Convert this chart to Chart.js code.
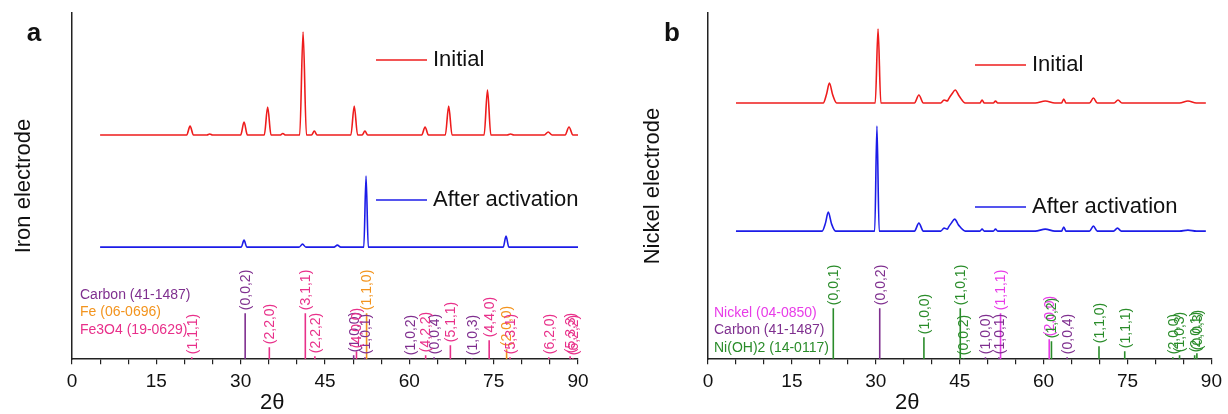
<!DOCTYPE html>
<html lang="en">
<head>
    <meta charset="UTF-8">
    <title>XRD - Iron and Nickel electrodes</title>
    <script src="https://cdn.jsdelivr.net/npm/chart.js"></script>
    <style>
        body { margin: 0; background: #fff; }
        #wrap { position: relative; width: 1228px; height: 414px; }
        .panel { position: absolute; top: 0; width: 614px; height: 414px; }
    </style>
</head>
<body>
<div id="wrap">
    <div class="panel" style="left:0"><canvas id="ironChart"></canvas></div>
    <div class="panel" style="left:614px"><canvas id="nickelChart"></canvas></div>
</div>
<script>
    // ---- measured patterns (2theta, intensity above each trace's own baseline, a.u.) ----
    const ironInitialX = [5, 20.4, 21.0, 21.6, 24.0, 24.5, 25.0, 30.0, 30.6, 31.2, 34.2, 34.8, 35.4, 37.0, 37.5, 38.0,
        40.5, 41.1, 41.7, 42.6, 43.1, 43.6, 49.6, 50.2, 50.8, 51.6, 52.1, 52.6, 62.2, 62.8, 63.4, 66.4, 67.0, 67.6,
        73.3, 73.9, 74.5, 77.4, 78.0, 78.6, 84.0, 84.7, 85.4, 87.7, 88.4, 89.1, 90];
    const ironInitialY = [0, 0, 9, 0, 0, 1, 0, 0, 13, 0, 0, 28, 0, 0, 1.5, 0,
        0, 103, 0, 0, 4, 0, 0, 29, 0, 0, 4, 0, 0, 8, 0, 0, 29, 0,
        0, 45, 0, 0, 1, 0, 0, 3, 0, 0, 8, 0, 0];

    const ironActivatedX = [5, 30.1, 30.6, 31.1, 40.4, 41.0, 41.6, 46.6, 47.2, 47.8, 51.9, 52.3, 52.7, 76.7, 77.2, 77.7, 90];
    const ironActivatedY = [0, 0, 7, 0, 0, 3, 0, 0, 2, 0, 0, 71, 0, 0, 11, 0, 0];

    const nickelInitialX = [5, 20.6, 21.2, 21.7, 22.3, 23.0, 29.9, 30.4, 30.9, 36.9, 37.7, 38.5, 41.6, 42.2, 42.8,
        43.0, 43.6, 44.2, 44.9, 46.0, 48.6, 49.0, 49.4, 51.0, 51.4, 51.8, 58.5, 60.3, 62.0, 63.2, 63.6, 64.0,
        68.2, 68.9, 69.6, 72.6, 73.3, 74.0, 84.3, 85.8, 87.3, 89];
    const nickelInitialY = [0, 0, 9, 20, 8, 0, 0, 74, 0, 0, 8, 0, 0, 3, 2,
        4, 9, 13, 7, 0, 0, 3, 0, 0, 2, 0, 0, 2, 0, 0, 4, 0,
        0, 5, 0, 0, 3, 0, 0, 2, 0, 0];

    const nickelActivatedX = [5, 20.4, 21.0, 21.5, 22.1, 22.8, 29.8, 30.2, 30.6, 36.9, 37.7, 38.5, 41.6, 42.2, 42.8,
        43.0, 43.5, 44.1, 44.8, 46.0, 48.6, 49.0, 49.4, 51.0, 51.4, 51.8, 58.5, 60.3, 62.0, 63.2, 63.6, 64.0,
        68.2, 68.9, 69.6, 72.5, 73.2, 73.9, 84.3, 85.8, 87.3, 89];
    const nickelActivatedY = [0, 0, 8, 19, 7, 0, 0, 105, 0, 0, 8, 0, 0, 3, 2,
        4, 8, 12, 6, 0, 0, 2, 0, 0, 2, 0, 0, 2, 0, 0, 4, 0,
        0, 5, 0, 0, 3, 0, 0, 1, 0, 0];

    // ---- reference cards: [2theta, stick height, hkl] ----
    const ironCarbon = [[30.8, 46, '(0,0,2)'], [50.1, 4, '(1,0,0)'], [52.1, 2, '(1,0,1)'], [60.1, 1, '(1,0,2)'],
        [64.4, 2, '(0,0,4)'], [71.1, 1, '(1,0,3)']];
    const ironFe = [[52.4, 46, '(1,1,0)'], [77.3, 10, '(2,0,0)']];
    const ironFe3O4 = [[21.3, 2, '(1,1,1)'], [35.1, 12, '(2,2,0)'], [41.5, 46, '(3,1,1)'], [43.2, 3, '(2,2,2)'],
        [50.6, 8, '(4,0,0)'], [62.9, 4, '(4,2,2)'], [67.3, 14, '(5,1,1)'], [74.2, 19, '(4,4,0)'], [77.9, 2, '(5,3,1)'],
        [84.8, 2, '(6,2,0)'], [88.6, 3, '(5,3,3)'], [89.1, 1, '(6,2,2)']];

    const nickelNi = [[52.3, 46, '(1,1,1)'], [61.0, 20, '(2,0,0)']];
    const nickelCarbon = [[30.7, 51, '(0,0,2)'], [49.6, 2, '(1,0,0)'], [52.0, 2, '(1,0,1)'], [64.2, 2, '(0,0,4)']];
    const nickelNiOH2 = [[22.4, 51, '(0,0,1)'], [38.6, 22, '(1,0,0)'], [45.1, 51, '(1,0,1)'], [45.7, 1, '(0,0,2)'],
        [61.4, 18, '(1,0,2)'], [69.9, 13, '(1,1,0)'], [74.5, 8, '(1,1,1)'], [83.1, 2, '(2,0,0)'], [84.3, 4, '(1,0,3)'],
        [87.0, 4, '(2,0,1)'], [87.4, 6, '(0,0,3)']];

    const FONT = '"Liberation Sans", Arial, sans-serif';
    const RED = '#ee1c1c', BLUE = '#1c1ce8';

    function toPoints(xs, ys, offset) {
        return xs.map((x, i) => ({ x: x, y: ys[i] + offset }));
    }

    function stickPoints(peaks) {
        const pts = [];
        peaks.forEach(p => {
            pts.push({ x: p[0], y: 0 }, { x: p[0], y: p[1] }, { x: p[0], y: null });
        });
        return pts;
    }

    const xrdExtras = {
        id: 'xrdExtras',
        afterDraw(chart, args, o) {
            const ctx = chart.ctx, xs = chart.scales.x, ys = chart.scales.y;
            ctx.save();
            ctx.textAlign = 'left';
            ctx.textBaseline = 'middle';

            // hkl labels above sticks
            ctx.font = '14px ' + FONT;
            o.phases.forEach(ph => {
                ctx.fillStyle = ph.color;
                ph.peaks.forEach(p => {
                    ctx.save();
                    ctx.translate(xs.getPixelForValue(p[0]) + 1, ys.getPixelForValue(p[1]) - 3);
                    ctx.rotate(-Math.PI / 2);
                    ctx.fillText(p[2], 0, 0);
                    ctx.restore();
                });
            });

            // card names
            o.phases.forEach((ph, i) => {
                ctx.fillStyle = ph.color;
                ctx.fillText(ph.name, o.phaseX, o.phaseY + i * 17.5);
            });

            // trace legend
            ctx.font = '22px ' + FONT;
            o.legend.forEach(l => {
                ctx.strokeStyle = l.color;
                ctx.lineWidth = 1.5;
                ctx.beginPath();
                ctx.moveTo(l.x, l.y);
                ctx.lineTo(l.x + 51, l.y);
                ctx.stroke();
                ctx.fillStyle = '#111';
                ctx.fillText(l.text, l.x + 57, l.y);
            });

            // axis title 2θ
            ctx.font = '22px ' + FONT;
            ctx.fillStyle = '#111';
            ctx.textAlign = 'center';
            ctx.fillText('2\u03b8', xs.getPixelForValue(35.6), 403);

            // panel letter
            ctx.font = 'bold 26px ' + FONT;
            ctx.fillText(o.letter, o.letterX, 34);
            ctx.restore();
        }
    };

    function makePanel(id, yTitle, traces, phases, extras, pad) {
        const datasets = [];
        traces.forEach(t => datasets.push({
            data: toPoints(t.x, t.y, t.offset),
            borderColor: t.color, borderWidth: 1.6, pointRadius: 0,
            cubicInterpolationMode: 'monotone', fill: false
        }));
        phases.forEach(ph => datasets.push({
            data: stickPoints(ph.peaks),
            borderColor: ph.color, borderWidth: 1.6, pointRadius: 0, spanGaps: false, fill: false
        }));

        return new Chart(document.getElementById(id), {
            type: 'line',
            data: { datasets: datasets },
            plugins: [xrdExtras],
            options: {
                responsive: true,
                maintainAspectRatio: false,
                animation: false,
                layout: { padding: { left: 0, right: pad.right, top: 13, bottom: 15 } },
                plugins: {
                    legend: { display: false },
                    tooltip: { enabled: false },
                    xrdExtras: Object.assign({ phases: phases }, extras)
                },
                scales: {
                    x: {
                        type: 'linear', min: 0, max: 90,
                        grid: { display: true, drawOnChartArea: false, drawTicks: true, tickLength: 5, color: '#222', lineWidth: 1.2 },
                        border: { display: true, color: '#222', width: 1.5 },
                        ticks: {
                            stepSize: 5, autoSkip: false, maxRotation: 0, padding: 6,
                            color: '#111', font: { family: FONT, size: 19 },
                            callback: v => (v % 15 === 0 ? v : '')
                        }
                    },
                    y: {
                        min: 0, max: 346,
                        grid: { display: false },
                        border: { display: true, color: '#222', width: 1.5 },
                        ticks: { display: false },
                        title: {
                            display: true, text: yTitle, color: '#111',
                            font: { family: FONT, size: 22 },
                            padding: { top: pad.titleTop, bottom: pad.titleBottom }
                        }
                    }
                }
            }
        });
    }

    makePanel('ironChart', 'Iron electrode',
        [
            { x: ironInitialX, y: ironInitialY, offset: 224, color: RED },
            { x: ironActivatedX, y: ironActivatedY, offset: 112, color: BLUE }
        ],
        [
            { name: 'Carbon (41-1487)', color: '#7f2f8f', peaks: ironCarbon },
            { name: 'Fe (06-0696)', color: '#f3941e', peaks: ironFe },
            { name: 'Fe3O4 (19-0629)', color: '#e8308a', peaks: ironFe3O4 }
        ],
        {
            letter: 'a', letterX: 34, phaseX: 80, phaseY: 295,
            legend: [{ text: 'Initial', color: RED, x: 376, y: 60 }, { text: 'After activation', color: BLUE, x: 376, y: 200 }]
        },
        { right: 36, titleTop: 10.8, titleBottom: 26.8 });

    makePanel('nickelChart', 'Nickel electrode',
        [
            { x: nickelInitialX, y: nickelInitialY, offset: 256, color: RED },
            { x: nickelActivatedX, y: nickelActivatedY, offset: 128, color: BLUE }
        ],
        [
            { name: 'Nickel (04-0850)', color: '#e83ce8', peaks: nickelNi },
            { name: 'Carbon (41-1487)', color: '#7f2f8f', peaks: nickelCarbon },
            { name: 'Ni(OH)2 (14-0117)', color: '#2a8c2a', peaks: nickelNiOH2 }
        ],
        {
            letter: 'b', letterX: 58, phaseX: 100, phaseY: 313,
            legend: [{ text: 'Initial', color: RED, x: 361, y: 65 }, { text: 'After activation', color: BLUE, x: 361, y: 207 }]
        },
        { right: 14, titleTop: 25.8, titleBottom: 33.8 });
</script>
</body>
</html>
